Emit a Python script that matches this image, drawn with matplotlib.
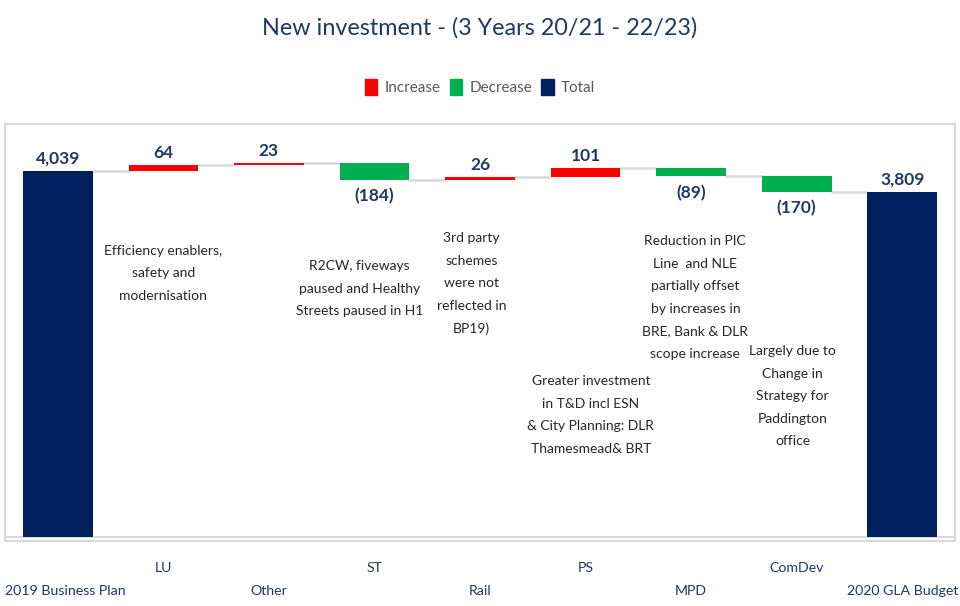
import matplotlib
matplotlib.use("Agg")
import matplotlib.pyplot as plt
from matplotlib import font_manager
from matplotlib.patches import Patch
from matplotlib.transforms import blended_transform_factory

categories = ["2019 Business Plan", "LU", "Other", "ST", "Rail", "PS", "MPD", "ComDev", "2020 GLA Budget"]
changes = [4039, 64, 23, -184, 26, 101, -89, -170, 3809]
kinds = ["total", "inc", "inc", "dec", "inc", "inc", "dec", "dec", "total"]
value_labels = ["4,039", "64", "23", "(184)", "26", "101", "(89)", "(170)", "3,809"]

notes = [
    (1, 0.0, 3225, "Efficiency enablers,\nsafety and\nmodernisation"),
    (3, -0.14, 3055, "R2CW, fiveways\npaused and Healthy\nStreets paused in H1"),
    (4, -0.08, 3365, "3rd party\nschemes\nwere not\nreflected in\nBP19)"),
    (5, 0.05, 1785, "Greater investment\nin T&D incl ESN\n& City Planning: DLR\nThamesmead& BRT"),
    (6, 0.04, 3330, "Reduction in PIC\nLine  and NLE\npartially offset\nby increases in\nBRE, Bank & DLR\nscope increase"),
    (7, -0.04, 2115, "Largely due to\nChange in\nStrategy for\nPaddington\noffice"),
]

NAVY = "#002060"
RED = "#FF0000"
GREEN = "#00B050"
TXT_NAVY = "#1F3864"
GRID = "#D9D9D9"

installed = {f.name for f in font_manager.fontManager.ttflist}
narrow = "Liberation Sans Narrow" if "Liberation Sans Narrow" in installed else "Lato"
plt.rcParams["font.family"] = ["Lato", "DejaVu Sans"]

fig = plt.figure(figsize=(9.6, 6.06), dpi=100)
ax = fig.add_axes([5 / 960, 1 - 541 / 606, 950 / 960, (541 - 124) / 606])

# waterfall bars
level = 0
tops = []
for i, (c, k) in enumerate(zip(changes, kinds)):
    if k == "total":
        bottom, height = 0, c
        level = c
        color = NAVY
    elif k == "inc":
        bottom, height = level, c
        level += c
        color = RED
    else:
        bottom, height = level + c, -c
        level += c
        color = GREEN
    ax.bar(i, height, bottom=bottom, width=0.66, color=color, zorder=3)
    tops.append(level)
    if k == "dec":
        ax.annotate(value_labels[i], (i, bottom), xytext=(0, -6), textcoords="offset points",
                    ha="center", va="top", fontsize=12.5, fontweight="bold", color=TXT_NAVY)
    else:
        ax.annotate(value_labels[i], (i, bottom + height), xytext=(0, 3), textcoords="offset points",
                    ha="center", va="bottom", fontsize=12.5, fontweight="bold", color=TXT_NAVY)

# connectors
for i in range(len(changes) - 1):
    ax.plot([i + 0.33, i + 0.67], [tops[i], tops[i]], color=GRID, lw=1.8, zorder=2)

for i, dx, y, txt in notes:
    ax.text(i + dx, y, txt, ha="center", va="top", fontsize=10, color="#262626",
            family=[narrow, "DejaVu Sans"], linespacing=2.05)

ax.axhline(0, color=GRID, lw=1.5, zorder=1)
ax.set_xlim(-0.5, len(categories) - 0.5)
ax.set_ylim(-44, 4558)
ax.set_yticks([])
ax.set_xticks([])
for s in ax.spines.values():
    s.set_color(GRID)
    s.set_linewidth(1.5)

# staggered category labels
trans = blended_transform_factory(ax.transData, ax.transAxes)
for j, name in enumerate(categories):
    yy = -0.12 if j % 2 == 0 else -0.0647
    if j == 0:
        ax.text(-0.5, yy, name, transform=trans, ha="left", va="center", fontsize=10.2, color=TXT_NAVY)
    else:
        ax.text(j, yy, name, transform=trans, ha="center", va="center", fontsize=10.2, color=TXT_NAVY)

fig.text(0.5, 1 - 28 / 606, "New investment - (3 Years 20/21 - 22/23)", ha="center", va="center",
         fontsize=16.8, color=TXT_NAVY)
handles = [Patch(color=RED, label="Increase"), Patch(color=GREEN, label="Decrease"),
           Patch(color=NAVY, label="Total")]
fig.legend(handles=handles, loc="center", bbox_to_anchor=(0.5, 1 - 87 / 606), ncol=3, frameon=False,
           fontsize=11, labelcolor="#595959", handlelength=0.8, handleheight=1.3,
           handletextpad=0.5, columnspacing=0.6)

fig.savefig("out.png", dpi=100)
